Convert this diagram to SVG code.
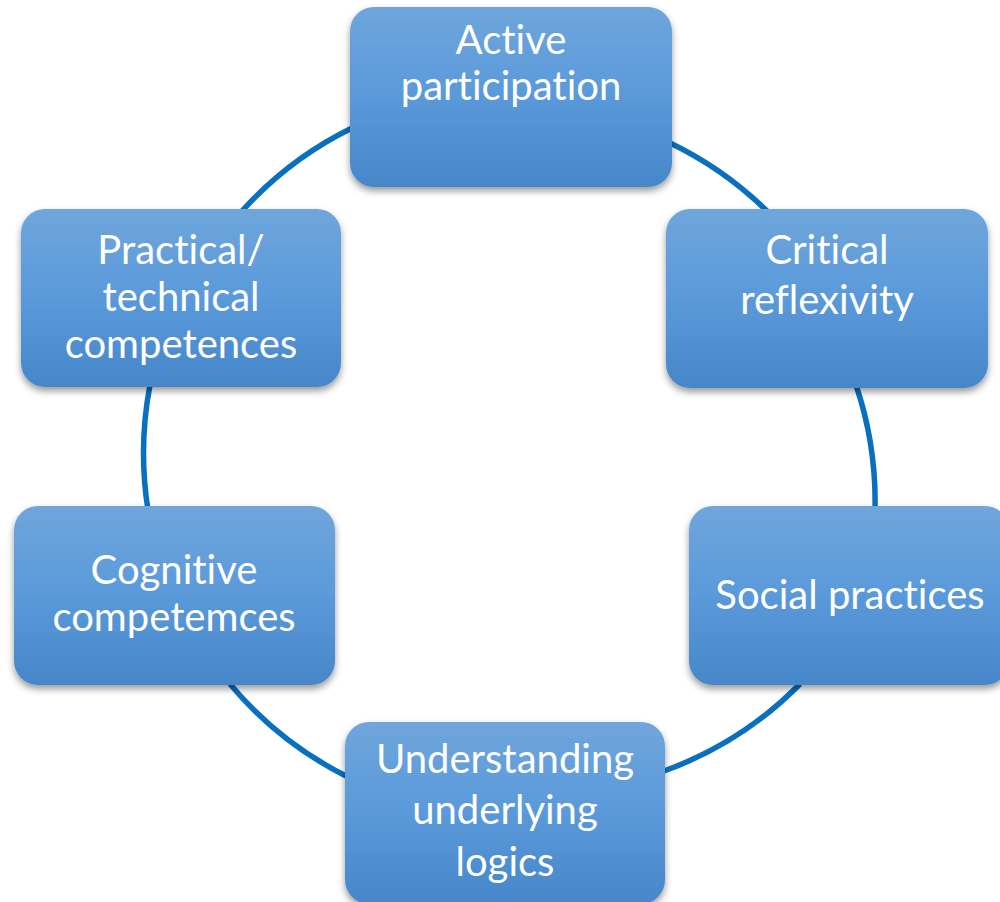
<svg xmlns="http://www.w3.org/2000/svg" width="1000" height="902" viewBox="0 0 1000 902">
  <defs>
    <linearGradient id="boxFill" x1="0" y1="0" x2="0" y2="1">
      <stop offset="0" stop-color="#6fa6dc"/>
      <stop offset="0.5" stop-color="#5a99da"/>
      <stop offset="1" stop-color="#4687c9"/>
    </linearGradient>
    <filter id="shadow" x="-10%" y="-10%" width="120%" height="130%">
      <feDropShadow dx="0" dy="4" stdDeviation="3.5" flood-color="#000" flood-opacity="0.4"/>
    </filter>
  </defs>
  <style>
    .box { fill: url(#boxFill); filter: url(#shadow); }
    .lbl { font-family: Lato, "Open Sans", "Liberation Sans", sans-serif; font-size: 40px; fill: #ffffff; text-anchor: middle; font-variant-ligatures: none; }
    .ring { fill: none; stroke: #0870bf; stroke-width: 5.5; }
  </style>
  <rect width="1000" height="902" fill="#ffffff"/>

  <!-- ring segments between the boxes, drawn clockwise -->
  <g id="connectors">
    <path class="ring" d="M668,142 A364,364 0 0 1 768,212"/>
    <path class="ring" d="M856,385 A364,364 0 0 1 875,510"/>
    <path class="ring" d="M800,684 A364,364 0 0 1 664,771"/>
    <path class="ring" d="M346,776 A364,364 0 0 1 230,684"/>
    <path class="ring" d="M148,510 A364,364 0 0 1 150,385"/>
    <path class="ring" d="M242,211 A364,364 0 0 1 352,128"/>
  </g>

  <g id="active-participation">
    <rect class="box" x="350" y="7" width="322" height="180" rx="24"/>
    <text class="lbl" x="511" y="54">Active</text>
    <text class="lbl" x="511" y="100">participation</text>
  </g>

  <g id="critical-reflexivity">
    <rect class="box" x="666" y="209" width="322" height="179" rx="24"/>
    <text class="lbl" x="827" y="264">Critical</text>
    <text class="lbl" x="827" y="314">reflexivity</text>
  </g>

  <g id="social-practices">
    <rect class="box" x="689" y="506" width="320" height="179" rx="24"/>
    <text class="lbl" x="850" y="609">Social practices</text>
  </g>

  <g id="understanding-underlying-logics">
    <rect class="box" x="345" y="722" width="320" height="182" rx="24"/>
    <text class="lbl" x="505" y="773">Understanding</text>
    <text class="lbl" x="505" y="824">underlying</text>
    <text class="lbl" x="505" y="876">logics</text>
  </g>

  <g id="cognitive-competemces">
    <rect class="box" x="14" y="506" width="321" height="179" rx="24"/>
    <text class="lbl" x="174" y="584">Cognitive</text>
    <text class="lbl" x="174" y="631">competemces</text>
  </g>

  <g id="practical-technical-competences">
    <rect class="box" x="21" y="209" width="320" height="178" rx="24"/>
    <text class="lbl" x="181" y="264">Practical/</text>
    <text class="lbl" x="181" y="311">technical</text>
    <text class="lbl" x="181" y="358">competences</text>
  </g>
</svg>
